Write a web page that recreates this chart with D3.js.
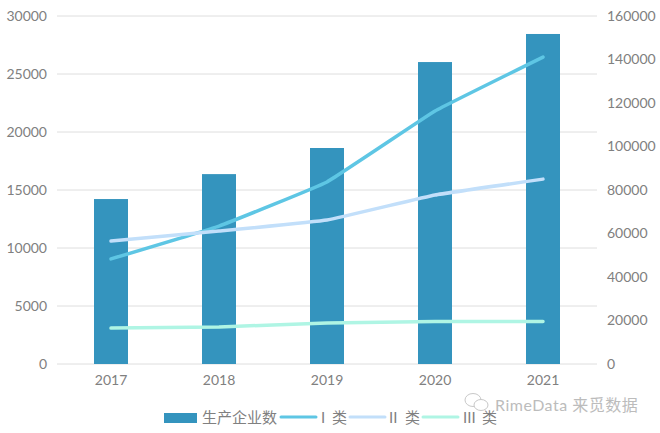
<!DOCTYPE html>
<html>
<head>
<meta charset="utf-8">
<script src="https://cdn.jsdelivr.net/npm/d3@7"></script>
<style>
  html, body { margin: 0; padding: 0; background: #fff; }
  text { font-family: Lato, "Noto Sans CJK SC", sans-serif; fill: #808080; }
</style>
</head>
<body>
<svg id="chart" width="660" height="433"></svg>
<script>
const years = ["2017", "2018", "2019", "2020", "2021"];
const companies = [14220, 16370, 18620, 26030, 28450];
const classOne = [48300, 63400, 83700, 116300, 141100];
const classTwo = [56500, 61100, 66200, 77700, 85000];
const classThree = [16500, 17000, 18900, 19500, 19500];
const leftTicks = [0, 5000, 10000, 15000, 20000, 25000, 30000];
const rightTicks = [0, 20000, 40000, 60000, 80000, 100000, 120000, 140000, 160000];

const colors = { bar: "#3494be", one: "#5ec6e4", two: "#c2dffa", three: "#aff5e4" };

const svg = d3.select("#chart");
const plotLeft = 57, plotRight = 597, plotTop = 16, plotBottom = 364;

const x = d3.scaleBand().domain(years).range([plotLeft, plotRight]);
const yLeft = d3.scaleLinear().domain([0, 30000]).range([plotBottom, plotTop]);
const yRight = d3.scaleLinear().domain([0, 160000]).range([plotBottom, plotTop]);

// Gridlines
svg.append("g")
  .selectAll("line")
  .data(leftTicks)
  .join("line")
  .attr("x1", plotLeft)
  .attr("x2", plotRight)
  .attr("y1", (d) => yLeft(d))
  .attr("y2", (d) => yLeft(d))
  .attr("stroke", "#dedede")
  .attr("stroke-width", 1);

// Axes, domain and tick marks hidden
const leftAxis = svg.append("g")
  .attr("transform", `translate(${plotLeft},0)`)
  .call(d3.axisLeft(yLeft).tickValues(leftTicks).tickSize(0).tickPadding(10).tickFormat(d3.format("d")));
const rightAxis = svg.append("g")
  .attr("transform", `translate(${plotRight},0)`)
  .call(d3.axisRight(yRight).tickValues(rightTicks).tickSize(0).tickPadding(10).tickFormat(d3.format("d")));
const bottomAxis = svg.append("g")
  .attr("transform", `translate(0,${plotBottom})`)
  .call(d3.axisBottom(x).tickSize(0).tickPadding(11));
[leftAxis, rightAxis, bottomAxis].forEach((axis) => {
  axis.attr("font-family", null);
  axis.select(".domain").remove();
  axis.selectAll("text").style("font-size", "14px");
});

// Bars
const barWidth = 34;
svg.append("g")
  .selectAll("rect")
  .data(companies)
  .join("rect")
  .attr("x", (d, i) => x(years[i]) + x.bandwidth() / 2 - barWidth / 2)
  .attr("y", (d) => yLeft(d))
  .attr("width", barWidth)
  .attr("height", (d) => plotBottom - yLeft(d))
  .attr("fill", colors.bar);

// Lines, only slightly rounded at the points
const line = d3.line()
  .x((d, i) => x(years[i]) + x.bandwidth() / 2)
  .y((d) => yRight(d))
  .curve(d3.curveCardinal.tension(0.75));

[[classOne, colors.one], [classTwo, colors.two], [classThree, colors.three]].forEach(([values, color]) => {
  svg.append("path")
    .attr("d", line(values))
    .attr("fill", "none")
    .attr("stroke", color)
    .attr("stroke-width", 3.5)
    .attr("stroke-linecap", "round")
    .attr("stroke-linejoin", "round");
});

// Legend
const legendY = 418;
const legend = svg.append("g").style("font-size", "15px");
legend.append("rect").attr("x", 164).attr("y", legendY - 5).attr("width", 33).attr("height", 10).attr("fill", colors.bar);
legend.append("text").attr("x", 202).attr("y", legendY + 5).text("生产企业数");
[
  [281, colors.one, "I", 321, 332],
  [350, colors.two, "II", 389, 405],
  [423, colors.three, "III", 463, 482],
].forEach(([x0, color, label, labelX, classX]) => {
  legend.append("line")
    .attr("x1", x0).attr("x2", x0 + 35)
    .attr("y1", legendY - 1).attr("y2", legendY - 1)
    .attr("stroke", color).attr("stroke-width", 3).attr("stroke-linecap", "round");
  legend.append("text").attr("x", labelX).attr("y", legendY + 5).text(label);
  legend.append("text").attr("x", classX).attr("y", legendY + 5).text("类");
});

// Watermark
const mark = svg.append("g").attr("fill", "none").attr("stroke", "#c8c8c8").attr("stroke-width", 1);
mark.append("ellipse").attr("cx", 473).attr("cy", 400).attr("rx", 8).attr("ry", 6.5);
mark.append("ellipse").attr("cx", 481).attr("cy", 405).attr("rx", 7).attr("ry", 5.5).attr("fill", "#fff");
svg.append("text")
  .attr("x", 495).attr("y", 411)
  .style("font-size", "16px").style("fill", "#bcbcbc")
  .style("letter-spacing", "0.5px")
  .text("RimeData 来觅数据");
</script>
</body>
</html>
